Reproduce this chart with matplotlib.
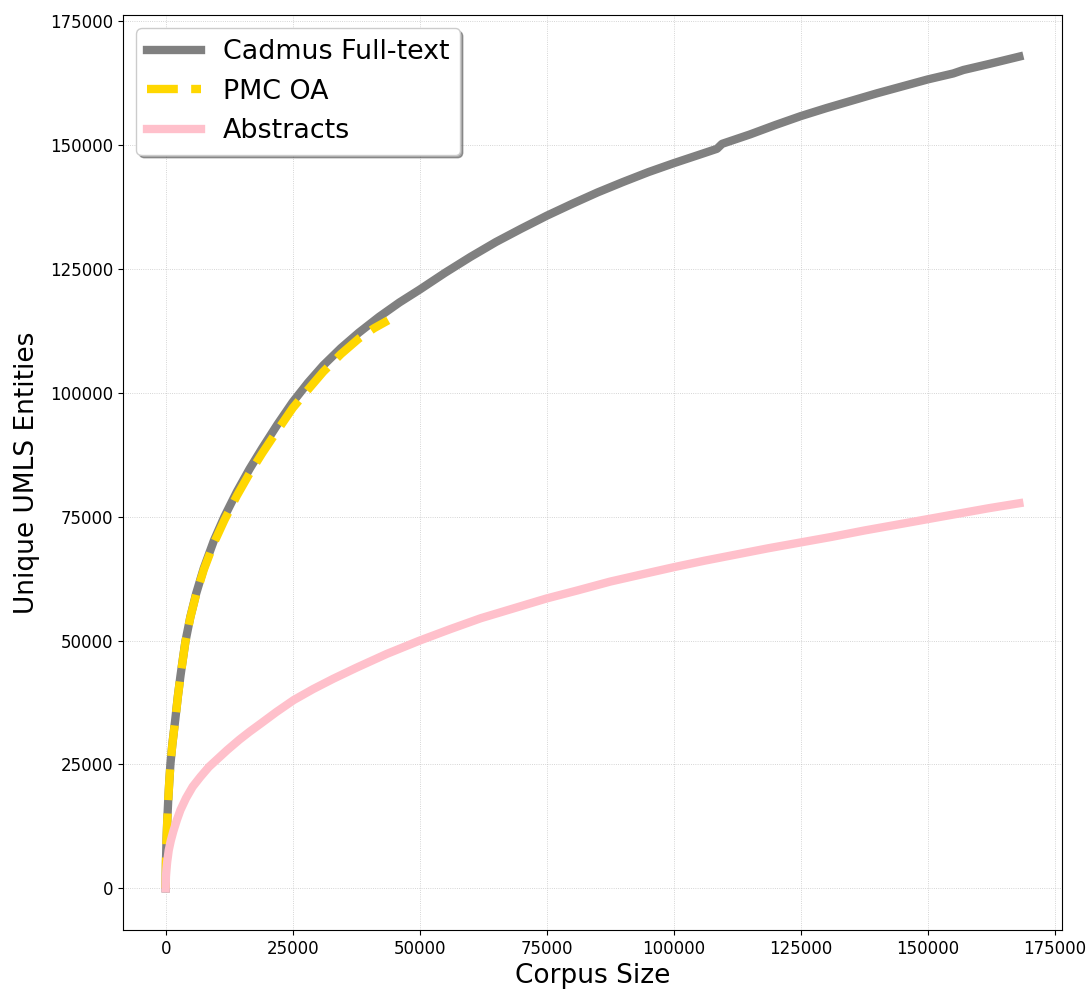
import matplotlib
matplotlib.use("Agg")
import matplotlib.pyplot as plt

# cumulative unique UMLS entities vs number of documents
cadmus_size = [0, 50, 150, 300, 500, 700, 925, 1300, 1900, 2400, 2900, 3400,
               3880, 4860, 6000, 7500, 9500, 11560, 14000, 16500, 19000, 22000,
               25000, 28000, 31000, 34500, 38000, 42000, 46000, 50000, 55000,
               60000, 65000, 70000, 75000, 80000, 85000, 90000, 95000, 100000,
               105000, 108500, 109500, 115000, 120000, 125000, 130000, 135000,
               140000, 145000, 150000, 155000, 157000, 162000, 168000]
cadmus_ents = [0, 5000, 9200, 13400, 17800, 21400, 25000, 29000, 34200, 38800,
               42800, 46400, 49800, 54800, 59500, 64600, 70200, 75000, 80000,
               84600, 88800, 93600, 98100, 102000, 105500, 109000, 112100,
               115300, 118200, 120800, 124200, 127400, 130400, 133100, 135700,
               138100, 140400, 142500, 144500, 146300, 148000, 149200, 150200,
               152100, 154000, 155800, 157400, 158900, 160400, 161800, 163200,
               164400, 165100, 166300, 167800]

pmc_size = [0, 50, 150, 300, 500, 700, 925, 1300, 1900, 2400, 2900, 3400,
            3880, 4860, 6000, 7500, 9500, 11560, 14000, 16500, 19000, 22000,
            25000, 28000, 31000, 34500, 38000, 41000, 43800]
pmc_ents = [0, 5000, 9200, 13400, 17800, 21400, 24900, 28900, 34100, 38700,
            42700, 46300, 49700, 54700, 59300, 64300, 69700, 74300, 79200,
            83700, 87800, 92400, 96900, 100600, 104200, 107800, 110900, 113000,
            114600]

abs_size = [0, 50, 150, 300, 600, 1000, 1500, 2200, 2900, 4000, 5300, 6830,
            8500, 10300, 12100, 14500, 16500, 18640, 21800, 25200, 29000,
            33000, 37500, 43500, 50000, 56000, 62000, 68500, 75000, 81000,
            87500, 93500, 100000, 106000, 112500, 118500, 125000, 131000,
            137500, 143500, 150000, 156000, 162000, 168000]
abs_ents = [0, 2300, 3900, 5400, 7700, 9600, 11500, 13800, 15800, 18200,
            20500, 22500, 24500, 26200, 27900, 30000, 31600, 33200, 35600,
            38000, 40200, 42300, 44500, 47300, 50000, 52300, 54500, 56500,
            58500, 60100, 61900, 63300, 64800, 66100, 67400, 68600, 69800,
            70900, 72200, 73300, 74500, 75600, 76700, 77700]


def main():
    fig = plt.figure(figsize=(10.9, 9.93), dpi=100)
    ax = fig.add_axes([123 / 1090, 1 - 930 / 993, 939 / 1090, 915 / 993])

    ax.plot(cadmus_size, cadmus_ents, color="gray", linewidth=6,
            label="Cadmus Full-text")
    ax.plot(pmc_size, pmc_ents, color="gold", linewidth=6, linestyle="--",
            label="PMC OA")
    ax.plot(abs_size, abs_ents, color="pink", linewidth=6, label="Abstracts")

    ax.set_xlabel("Corpus Size", fontsize=19)
    ax.set_ylabel("Unique UMLS Entities", fontsize=19, labelpad=7)
    ax.tick_params(labelsize=12)
    ax.set_xticks(range(0, 175001, 25000))
    ax.set_yticks(range(0, 175001, 25000))
    ax.grid(True, linestyle=":", linewidth=0.6, alpha=0.7)
    ax.legend(loc="upper left", fontsize=19.4, shadow=True, framealpha=1)

    fig.savefig("out.png", dpi=100)
    plt.close(fig)


if __name__ == "__main__":
    main()
